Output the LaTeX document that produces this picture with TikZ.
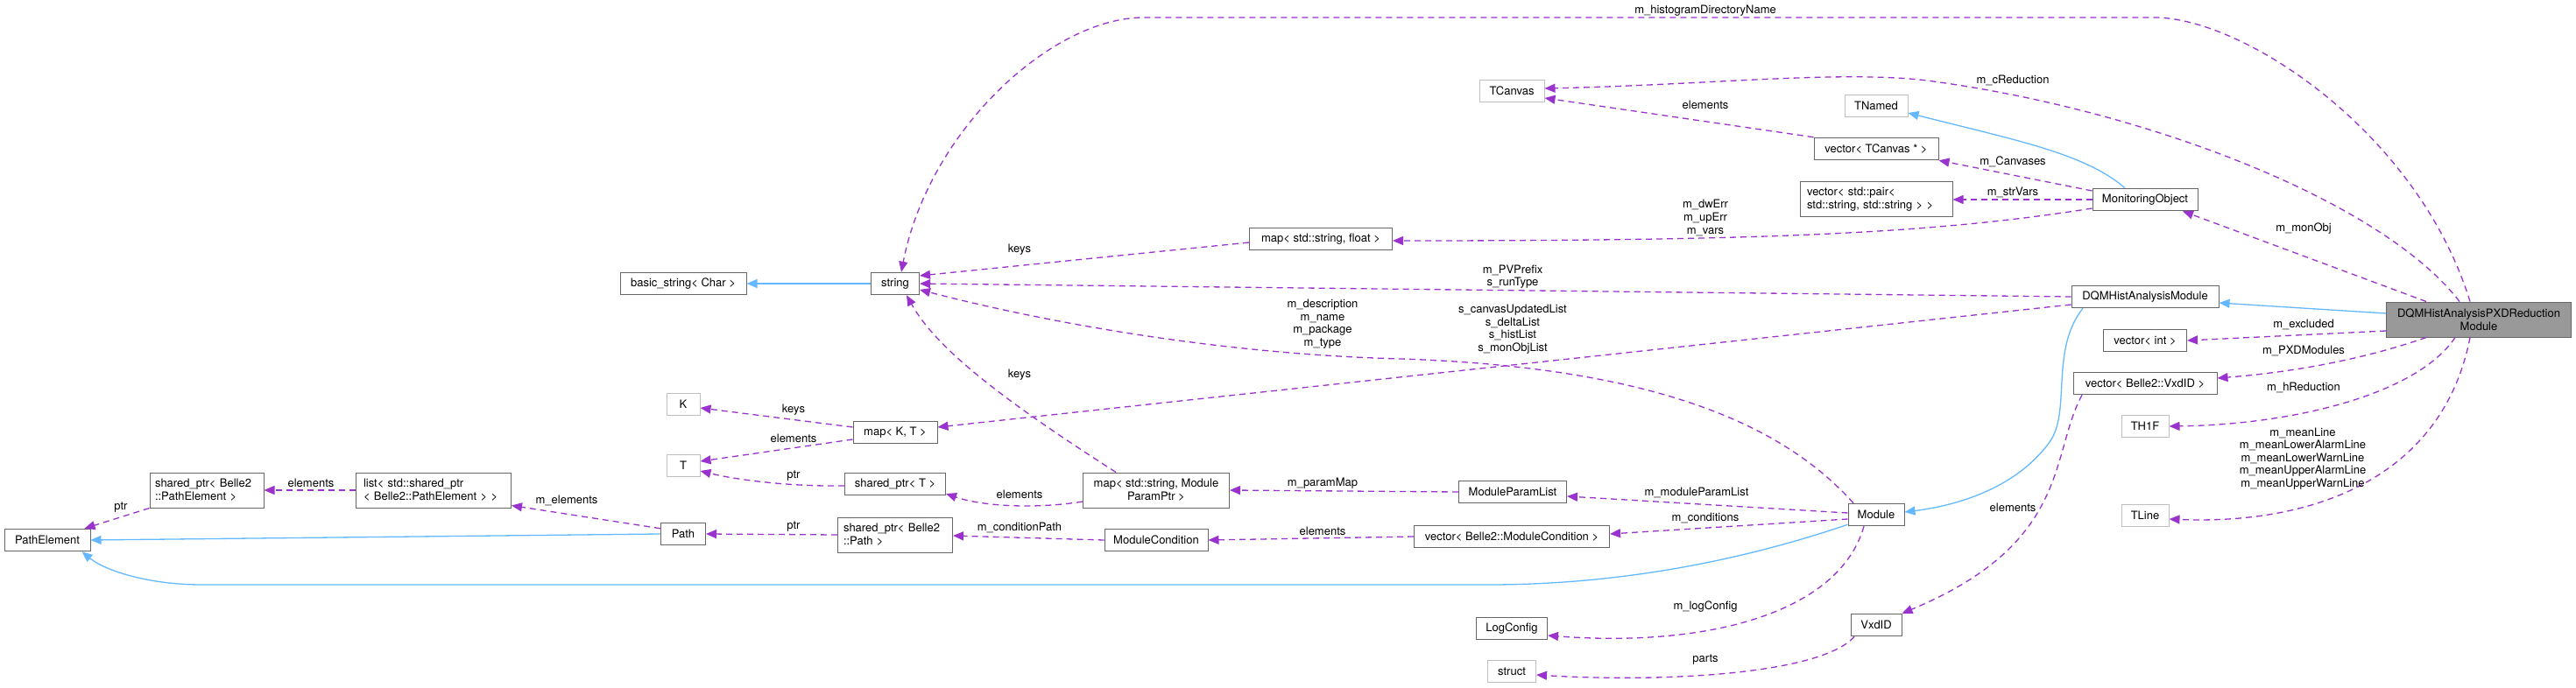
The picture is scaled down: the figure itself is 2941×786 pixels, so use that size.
\documentclass[tikz,border=0pt]{standalone}
\usepackage{fontspec}
\setmainfont{TeX Gyre Heros}
\usepackage{tikz}
\usetikzlibrary{arrows.meta}
\definecolor{edgeblue}{HTML}{63B8FF}
\definecolor{edgepurple}{HTML}{9A32CD}
\definecolor{boxline}{HTML}{666666}
\definecolor{boxlight}{HTML}{BFBFBF}
\definecolor{boxfill}{HTML}{999999}
\begin{document}
\begin{tikzpicture}[x=1pt, y=-1pt,
  every node/.style = {font=\fontsize{13}{15}\selectfont},
  cls/.style = {shape=rectangle, draw=boxline, line width=1pt, fill=white,
    minimum height=25.5pt, inner sep=0pt, align=center},
  twoline/.style = {minimum height=40pt},
  light/.style = {cls, draw=boxlight},
  mainbox/.style = {cls, twoline, fill=boxfill},
  lbl/.style = {inner sep=0pt, align=center, font=\fontsize{13}{14.6}\selectfont},
  inh/.style = {draw=edgeblue, line width=1.3pt, -{Triangle[length=12pt,width=10pt]}},
  use/.style = {draw=edgepurple, line width=1.3pt, dash pattern=on 7pt off 5pt,
    -{Triangle[length=12pt,width=10pt]}}]
  \useasboundingbox (0,0) rectangle (2941,786);
  % classes
  \node[cls, minimum width=144] (bstr) at (780,324) {basic\_string< Char >};
  \node[cls, minimum width=55] (str) at (1022,324) {string};
  \node[cls, minimum width=98] (pe) at (54,617) {PathElement};
  \node[cls, twoline, minimum width=130, text width=118, align=left] (spe) at (236,560) {shared\_ptr< Belle2\\ ::PathElement >};
  \node[cls, twoline, minimum width=177, text width=160, align=left] (lst) at (495,560) {list< std::shared\_ptr\\< Belle2::PathElement > >};
  \node[light, minimum width=38] (k) at (780,462) {K};
  \node[light, minimum width=38] (t) at (780,532) {T};
  \node[cls, minimum width=96] (mkt) at (1022,494) {map< K, T >};
  \node[cls, minimum width=115] (spt) at (1022,553) {shared\_ptr< T >};
  \node[cls, minimum width=51] (path) at (780,610) {Path};
  \node[cls, twoline, minimum width=131, text width=118, align=left] (spp) at (1022,611) {shared\_ptr< Belle2\\ ::Path >};
  \node[cls, twoline, minimum width=167] (mpm) at (1320,560) {map< std::string, Module\\ParamPtr >};
  \node[cls, minimum width=123] (mpl) at (1727,562) {ModuleParamList};
  \node[cls, minimum width=118] (mc) at (1320,617) {ModuleCondition};
  \node[cls, minimum width=223] (vmc) at (1726,613) {vector< Belle2::ModuleCondition >};
  \node[cls, minimum width=64] (mod) at (2142,588) {Module};
  \node[cls, minimum width=81] (logc) at (1726,718) {LogConfig};
  \node[light, minimum width=55] (strct) at (1726,767) {struct};
  \node[cls, minimum width=58] (vxd) at (2142,714) {VxdID};
  \node[light, minimum width=74] (tcan) at (1726,104) {TCanvas};
  \node[light, minimum width=72] (tnam) at (2142,121) {TNamed};
  \node[cls, minimum width=142] (vtc) at (2142,170) {vector< TCanvas * >};
  \node[cls, twoline, minimum width=174, text width=158, align=left] (vpr) at (2142,228) {vector< std::pair<\\ std::string, std::string > >};
  \node[cls, minimum width=163] (msf) at (1508,273) {map< std::string, float >};
  \node[cls, minimum width=120] (mo) at (2449,228) {MonitoringObject};
  \node[cls, minimum width=168] (dqm) at (2449,339) {DQMHistAnalysisModule};
  \node[mainbox, minimum width=211] (red) at (2830,365) {DQMHistAnalysisPXDReduction\\Module};
  \node[cls, minimum width=95] (vint) at (2449,389) {vector< int >};
  \node[cls, minimum width=164] (vvx) at (2449,438) {vector< Belle2::VxdID >};
  \node[light, minimum width=54] (th1) at (2449,487) {TH1F};
  \node[light, minimum width=54] (tln) at (2449,589) {TLine};
  % inheritance
  \draw[inh] (str) -- (bstr);
  \draw[inh] (path.west) -- (pe.east);
  \draw[inh] ([yshift=2pt]mod.south west) .. controls (1990,640) and (1850,668) .. (1700,668)
    -- (230,668) .. controls (170,668) and (120,652) .. ([xshift=-10pt]pe.south east);
  \draw[inh] ([yshift=7pt]red.west) -- ([yshift=-7pt]dqm.east);
  \draw[inh] ([xshift=-23pt]mo.north) .. controls (2380,175) and (2300,160) .. ([yshift=-8pt]tnam.east);
  \draw[inh] ([xshift=-71pt]dqm.south) .. controls (2340,400) and (2365,470) .. (2340,505)
    .. controls (2300,560) and (2230,578) .. ([yshift=3pt]mod.east);
  % members
  \draw[use] ([xshift=-10pt]red.north) .. controls (2760,150) and (2560,20) .. (2460,20)
    -- (1306,20) .. controls (1200,20) and (1060,150) .. ([xshift=7pt]str.north);
  \node[lbl] (lhist) at (1947,12) {m\_histogramDirectoryName};
  \draw[use] ([xshift=-22pt]red.north) .. controls (2720,230) and (2450,125) .. (2200,92)
    .. controls (2100,80) and (1950,97) .. ([yshift=3pt]tcan.east);
  \node[lbl] (lcred) at (2298,92) {m\_cReduction};
  \draw[use] (vtc.north west) -- ([yshift=-8pt]tcan.east);
  \node[lbl] (lvtc) at (1947,120) {elements};
  \draw[use] ([yshift=10pt]mo.west) -- (vtc.south east);
  \node[lbl] (lcanv) at (2298,185) {m\_Canvases};
  \draw[use] (mo.west) -- (vpr.east);
  \node[lbl] (lstrv) at (2298,220) {m\_strVars};
  \draw[use] ([yshift=-10pt]mo.west) .. controls (2200,268) and (2000,275) .. ([yshift=-2pt]msf.east);
  \node[lbl] (lerr) at (1947,249) {m\_dwErr\\m\_upErr\\m\_vars};
  \draw[use] ([xshift=-60pt]red.north) -- ([xshift=43pt]mo.south);
  \node[lbl] (lmon) at (2630,261) {m\_monObj};
  \draw[use] (dqm.west) -- (str.east);
  \node[lbl] (lpv) at (1727,316) {m\_PVPrefix\\s\_runType};
  \draw[use] ([yshift=-9pt]dqm.west) -- ([yshift=6pt]mkt.east);
  \node[lbl] (llists) at (1727,376) {s\_canvasUpdatedList\\s\_deltaList\\s\_histList\\s\_monObjList};
  \draw[use] ([xshift=-26pt]mod.north) .. controls (2040,490) and (1900,420) .. (1600,410)
    .. controls (1400,405) and (1200,370) .. ([yshift=-7pt]str.east);
  \node[lbl] (ldesc) at (1510,370) {m\_description\\m\_name\\m\_package\\m\_type};
  \draw[use] ([yshift=2pt]mod.west) -- ([yshift=-5pt]mpl.east);
  \node[lbl] (lmpl) at (1937,563) {m\_moduleParamList};
  \draw[use] ([yshift=-5pt]mod.west) -- ([yshift=3pt]vmc.east);
  \node[lbl] (lcond) at (1947,592) {m\_conditions};
  \draw[use] ([xshift=-14pt]mod.south) .. controls (2100,700) and (1950,740) .. ([yshift=-8pt]logc.east);
  \node[lbl] (llog) at (1947,693) {m\_logConfig};
  \draw[use] ([xshift=-46pt]mpm.north) .. controls (1150,460) and (1070,400) .. ([xshift=13pt]str.south);
  \node[lbl] (lkeys2) at (1164,428) {keys};
  \draw[use] ([yshift=-13pt]mpm.west) .. controls (1180,582) and (1120,578) .. ([yshift=-11pt]spt.east);
  \node[lbl] (lelem3) at (1164,565) {elements};
  \draw[use] (mpl.west) -- (mpm.east);
  \node[lbl] (lpmap) at (1510,552) {m\_paramMap};
  \draw[use] (mc.west) -- ([yshift=-1pt]spp.east);
  \node[lbl] (lcpath) at (1164,603) {m\_conditionPath};
  \draw[use] (vmc.west) -- (mc.east);
  \node[lbl] (lelem4) at (1510,607) {elements};
  \draw[use] ([yshift=-13pt]red.west) -- (vint.east);
  \node[lbl] (lexcl) at (2630,371) {m\_excluded};
  \draw[use] ([xshift=-60pt]red.south) .. controls (2700,410) and (2620,425) .. ([yshift=6pt]vvx.east);
  \node[lbl] (lpxd) at (2630,401) {m\_PXDModules};
  \draw[use] ([xshift=-27pt]red.south) .. controls (2760,450) and (2620,485) .. (th1.east);
  \node[lbl] (lhred) at (2630,443) {m\_hReduction};
  \draw[use] ([xshift=-10pt]red.south) .. controls (2790,540) and (2650,600) .. ([yshift=-4pt]tln.east);
  \node[lbl] (llines) at (2629,524) {m\_meanLine\\m\_meanLowerAlarmLine\\m\_meanLowerWarnLine\\m\_meanUpperAlarmLine\\m\_meanUpperWarnLine};
  \draw[use] ([xshift=-72pt]vvx.south) .. controls (2340,520) and (2365,620) .. (vxd.north east);
  \node[lbl] (lelem5) at (2298,580) {elements};
  \draw[use] ([xshift=-25pt]vxd.south) .. controls (2080,770) and (1900,780) .. ([yshift=-4pt]strct.east);
  \node[lbl] (lparts) at (1947,754) {parts};
  \draw[use] (spe.south west) -- ([xshift=-7pt]pe.north east);
  \node[lbl] (lptr1) at (138,580) {ptr};
  \draw[use] (lst.west) -- (spe.east);
  \node[lbl] (lelem1) at (355,552) {elements};
  \draw[use] ([yshift=-7pt]path.north west) -- ([yshift=3pt]lst.south east);
  \node[lbl] (lmel) at (647,572) {m\_elements};
  \draw[use] (spp.west) -- (path.east);
  \node[lbl] (lptr3) at (906,602) {ptr};
  \draw[use] ([yshift=6pt]mkt.west) -- ([yshift=-4pt]k.east);
  \node[lbl] (lkeys1) at (906,468) {keys};
  \draw[use] ([yshift=-8pt]mkt.west) -- ([yshift=5pt]t.east);
  \node[lbl] (lelem2) at (906,501) {elements};
  \draw[use] ([yshift=-2pt]spt.west) .. controls (900,556) and (840,548) .. ([yshift=-6pt]t.east);
  \node[lbl] (lptr2) at (906,544) {ptr};
  \draw[use] ([yshift=-4pt]msf.west) -- ([yshift=9pt]str.east);
  \node[lbl] (lkeys3) at (1164,285) {keys};
\end{tikzpicture}
\end{document}
